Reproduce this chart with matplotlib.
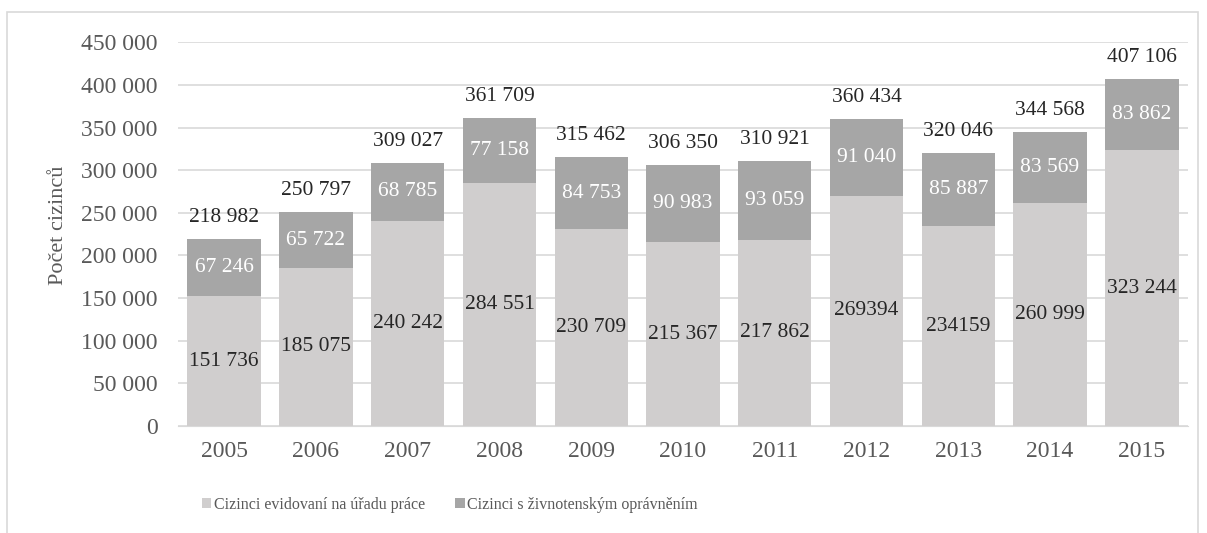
import matplotlib
matplotlib.use("Agg")
import matplotlib.pyplot as plt
from matplotlib.patches import Rectangle
import numpy as np

plt.rcParams['font.family'] = ['Liberation Serif', 'DejaVu Serif']

roky = ['2005', '2006', '2007', '2008', '2009', '2010', '2011', '2012', '2013', '2014', '2015']
uradu_prace = [151736, 185075, 240242, 284551, 230709, 215367, 217862, 269394, 234159, 260999, 323244]
zivnost = [67246, 65722, 68785, 77158, 84753, 90983, 93059, 91040, 85887, 83569, 83862]
celkem = [218982, 250797, 309027, 361709, 315462, 306350, 310921, 360434, 320046, 344568, 407106]
popisky_uradu = ['151 736', '185 075', '240 242', '284 551', '230 709', '215 367', '217 862',
                 '269394', '234159', '260 999', '323 244']
popisky_zivnost = ['67 246', '65 722', '68 785', '77 158', '84 753', '90 983', '93 059',
                   '91 040', '85 887', '83 569', '83 862']
popisky_celkem = ['218 982', '250 797', '309 027', '361 709', '315 462', '306 350', '310 921',
                  '360 434', '320 046', '344 568', '407 106']

fig = plt.figure(figsize=(12.07, 5.33), dpi=100)
ax = fig.add_axes([178.3 / 1207, 1 - 425.7 / 533, 1009.4 / 1207, 383.2 / 533])

x = np.arange(len(roky))
sirka = 0.8
ax.bar(x, uradu_prace, sirka, color='#d0cece', label='Cizinci evidovaní na úřadu práce', zorder=2)
ax.bar(x, zivnost, sirka, bottom=uradu_prace, color='#a6a6a6',
       label='Cizinci s živnotenským oprávněním', zorder=2)

for i in range(len(roky)):
    ax.text(x[i], uradu_prace[i] / 2, popisky_uradu[i], ha='center', va='center',
            fontsize=15.5, color='#262626', zorder=3)
    ax.text(x[i], uradu_prace[i] + zivnost[i] / 2, popisky_zivnost[i], ha='center', va='center',
            fontsize=15.5, color='white', zorder=3)
    ax.text(x[i], celkem[i] + 14000, popisky_celkem[i], ha='center', va='bottom',
            fontsize=15.5, color='#262626', zorder=3)

ax.set_xlim(-0.5, len(roky) - 0.5)
ax.set_ylim(0, 450000)
ax.set_yticks(np.arange(0, 450001, 50000))
ax.set_yticklabels([f'{v:,}'.replace(',', ' ') for v in range(0, 450001, 50000)])
ax.set_xticks(x)
ax.set_xticklabels(roky)
ax.tick_params(axis='both', length=0, labelsize=17, labelcolor='#595959')
ax.tick_params(axis='y', pad=15)
ax.tick_params(axis='x', pad=11)
ax.yaxis.grid(True, color='#d9d9d9', linewidth=1.2, zorder=0)
ax.set_axisbelow(True)
for s in ['top', 'right', 'left']:
    ax.spines[s].set_visible(False)
ax.spines['bottom'].set_color('#d9d9d9')
ax.set_ylabel('Počet cizinců', fontsize=16, color='#595959')
ax.yaxis.set_label_coords(-0.109, 0.524)

ax.legend(loc='center', bbox_to_anchor=(0.269, -0.207), ncol=2, frameon=False,
          fontsize=11.5, labelcolor='#595959', handlelength=0.6, handleheight=0.6,
          handletextpad=0.15, columnspacing=1.9)

fig.patches.append(Rectangle((7 / 1207, -0.05), 1191 / 1207, 1 - 12 / 533 + 0.05,
                             transform=fig.transFigure, fill=False, edgecolor='#d9d9d9', linewidth=1.2))

fig.savefig('out.png', dpi=100)
